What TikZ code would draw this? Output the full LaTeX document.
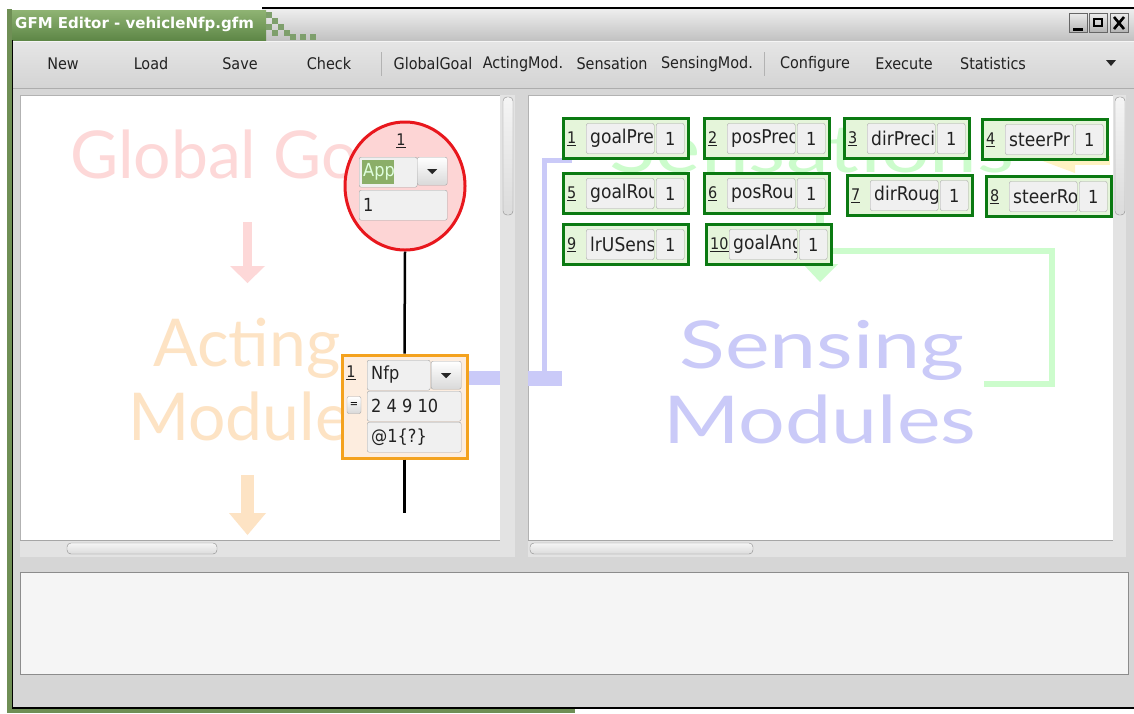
\documentclass[tikz,border=0pt]{standalone}
\usepackage{fontspec}
\usepackage{graphicx}
\setmainfont{DejaVu Sans}
\newfontfamily\gui{DejaVu Sans Condensed}
\newfontfamily\guiw{DejaVu Sans}
\newfontfamily\wm{Lato}
\usetikzlibrary{shapes.geometric}
\definecolor{winbg}{HTML}{D6D6D6}
\definecolor{titleA}{HTML}{EEEEEE}
\definecolor{titleB}{HTML}{C2C2C2}
\definecolor{greenA}{HTML}{8FB373}
\definecolor{greenB}{HTML}{5E8747}
\definecolor{frameGreen}{HTML}{6F8F55}
\definecolor{wmPink}{HTML}{FDD8D8}
\definecolor{wmPeach}{HTML}{FDE3C4}
\definecolor{wmBlue}{HTML}{CACAF8}
\definecolor{wmGreen}{HTML}{CCFCCC}
\definecolor{wmYellow}{HTML}{FFF2C2}
\definecolor{ggFill}{HTML}{FDD5D5}
\definecolor{ggRed}{HTML}{E8171D}
\definecolor{amFill}{HTML}{FDEDDF}
\definecolor{amOrange}{HTML}{F4A21E}
\definecolor{snFill}{HTML}{E5F5DA}
\definecolor{snGreen}{HTML}{0B7A12}
\definecolor{fieldFill}{HTML}{F0F0F0}
\definecolor{fieldLine}{HTML}{A6A6A6}
\definecolor{appGreen}{HTML}{8BAE68}
\definecolor{txt}{HTML}{222222}
\begin{document}
\begin{tikzpicture}[x=1pt,y=-1pt,
  tbtext/.style={font=\gui\fontsize{16}{16}\selectfont, text=txt, inner sep=0pt},
  titletext/.style={font=\guiw\bfseries\fontsize{15}{15}\selectfont, text=white, inner sep=0pt},
  field/.style={draw=fieldLine, fill=fieldFill, rounded corners=2pt, minimum height=30pt, inner sep=0pt, font=\gui\fontsize{18}{18}\selectfont, text=txt},
  fieldtext/.style={font=\gui\fontsize{18}{18}\selectfont, text=txt, inner sep=0pt},
  sentext/.style={font=\gui\fontsize{19}{19}\selectfont, text=txt, inner sep=0pt},
  numlbl/.style={font=\gui\fontsize{16}{16}\selectfont, text=txt, inner sep=0pt},
  dropbtn/.style={draw=fieldLine, top color=white, bottom color=black!15, rounded corners=2pt, minimum height=28pt, minimum width=30pt, inner sep=0pt},
  sensbox/.style={draw=snGreen, line width=3pt, fill=snFill, minimum width=125pt, minimum height=40pt, inner sep=0pt},
  wmtext/.style={font=\wm\fontsize{66}{66}\selectfont, inner sep=0pt},
  pane/.style={fill=white, draw=black!30},
  trough/.style={fill=black!11, draw=none},
  thumb/.style={draw=black!45, top color=black!4, bottom color=black!14, rounded corners=4pt},
  winbtn/.style={draw=black!60, top color=black!8, bottom color=black!30, minimum width=18pt, minimum height=19pt, inner sep=0pt},
  sep/.style={draw=black!30, line width=1pt}
]
\useasboundingbox (0,0) rectangle (1134,713);
\fill[white] (0,0) rectangle (1134,713);
% ---------- window frame ----------
\fill[winbg] (10,40) rectangle (1134,708);
\shade[top color=titleA, bottom color=titleB] (262,9) rectangle (1134,40);
\draw[black, line width=1.5pt] (262,8) -- (1134,8);
\shade[top color=greenA, bottom color=greenB] (10,10) rectangle (266,40);
\foreach \px/\py in {266/12, 272/18, 278/24, 266/24, 284/30, 290/34, 300/34, 272/30, 310/34}
  \fill[greenB!80] (\px,\py) rectangle ++(6,6);
\node[titletext, anchor=west] (title) at (15,24) {GFM Editor - vehicleNfp.gfm};
% window buttons
\node[winbtn] (bmin) at (1078,23) {};
\node[winbtn] (bmax) at (1098,23) {};
\node[winbtn] (bcls) at (1119,23) {};
\fill[black] ([xshift=-5pt,yshift=-5pt]bmin.center) rectangle ([xshift=5pt,yshift=-8pt]bmin.center);
\draw[black, line width=2pt] ([xshift=-4pt,yshift=-3pt]bmax.center) rectangle ([xshift=4pt,yshift=4pt]bmax.center);
\draw[black, line width=2.6pt] ([xshift=-5pt,yshift=-6pt]bcls.center) -- ([xshift=5pt,yshift=6pt]bcls.center);
\draw[black, line width=2.6pt] ([xshift=-5pt,yshift=6pt]bcls.center) -- ([xshift=5pt,yshift=-6pt]bcls.center);
% toolbar
\shade[top color=black!10, bottom color=black!17] (12,41) rectangle (1134,88);
\draw[black!4] (12,41.5) -- (1134,41.5);
\draw[black!32] (12,88) -- (1134,88);
\node[tbtext] (tNew) at (63,64) {New};
\node[tbtext] (tLoad) at (151,64) {Load};
\node[tbtext] (tSave) at (240,64) {Save};
\node[tbtext] (tCheck) at (329,64) {Check};
\draw[sep] (381,52) -- (381,76);
\node[tbtext] (tGG) at (433,64) {GlobalGoal};
\node[tbtext] (tAM) at (523,64) {ActingMod.};
\node[tbtext] (tSe) at (612,64) {Sensation};
\node[tbtext] (tSM) at (707,64) {SensingMod.};
\draw[sep] (764,52) -- (764,76);
\node[tbtext] (tCo) at (815,64) {Configure};
\node[tbtext] (tEx) at (904,64) {Execute};
\node[tbtext] (tSt) at (993,64) {Statistics};
\fill[black!85] (1106,60) -- (1116,60) -- (1111,66) -- cycle;
% left & bottom frame
\fill[frameGreen] (7,9) rectangle (12,713);
\draw[black, line width=1pt] (12.5,40) -- (12.5,708);
\fill[frameGreen] (12,709) rectangle (575,713);
\draw[black, line width=2pt] (12,708) -- (1134,708);
% ---------- panes ----------
\draw[pane] (20,95) rectangle (500,540);
\fill[trough] (500,95) rectangle (515,540);
\draw[thumb] (503,97) rectangle (513,215);
\fill[trough] (20,540) rectangle (515,557);
\draw[black!35] (20,540) -- (500,540);
\draw[thumb] (67,543) rectangle (217,554);
\draw[pane] (528,95) rectangle (1113,540);
\fill[trough] (1113,95) rectangle (1126,540);
\draw[thumb] (1115,97) rectangle (1125,215);
\fill[trough] (528,540) rectangle (1126,557);
\draw[black!35] (528,540) -- (1113,540);
\draw[thumb] (530,543) rectangle (753,554);
% message area
\draw[fill=black!4, draw=black!45] (20,572) rectangle (1128,674);
% ---------- left pane watermarks ----------
\begin{scope}
\clip (20,95) rectangle (500,540);
\node[wmtext, text=wmPink, anchor=base west] (wGG) at (70,178) {Global Go};
\fill[wmPink] (243,222) rectangle (252,268);
\fill[wmPink] (230,266) -- (265,266) -- (247.5,283) -- cycle;
\node[wmtext, text=wmPeach, anchor=base] (wAc) at (247,366) {Acting};
\node[wmtext, text=wmPeach, anchor=base west] (wMo) at (128,440) {Module};
\fill[wmPeach] (241,475) rectangle (254,515);
\fill[wmPeach] (229,513) -- (266,513) -- (247.5,535) -- cycle;
\fill[wmBlue] (467,371) rectangle (500,385);
\end{scope}
% ---------- right pane watermarks ----------
\begin{scope}
\clip (528,95) rectangle (1113,540);
\node[wmtext, text=wmGreen, anchor=base] (wSn) at (812,172) {\scalebox{1.3}[1]{Sensations}};
\fill[wmYellow] (1040,160) -- (1075,147) -- (1075,173) -- cycle;
\fill[wmYellow] (1075,156) rectangle (1110,165);
\fill[wmBlue] (528,371) rectangle (562,386);
\fill[wmBlue] (542,158) rectangle (547,386);
\fill[wmBlue] (542,158) rectangle (572,163);
\fill[wmGreen] (816,212) rectangle (824,266);
\fill[wmGreen] (803,264) -- (838,264) -- (820,282) -- cycle;
\draw[wmGreen, line width=6pt] (828,251) -- (1052,251) -- (1052,384) -- (984,384);
\node[wmtext, text=wmBlue, anchor=base] (wSe) at (822,368) {\scalebox{1.28}[1]{Sensing}};
\node[wmtext, text=wmBlue, anchor=base] (wMs) at (820,443) {\scalebox{1.25}[1]{Modules}};
\end{scope}
% ---------- global goal node ----------
\node[ellipse, draw=ggRed, line width=3pt, fill=ggFill, minimum width=120pt, minimum height=128pt, inner sep=0pt] (gg) at (405,186) {};
\node[numlbl] (ggn) at (401,141) {\underline{1}};
\node[field, minimum width=58pt, anchor=north west] (ggc) at (359,157) {};
\fill[appGreen] (362,160) rectangle (394,184);
\node[fieldtext, text=white!88!green, anchor=west] (ggct) at (363,172) {App};
\node[dropbtn, anchor=north west] (ggb) at (417,157) {};
\fill[black!85] ([xshift=-5pt,yshift=2pt]ggb.center) -- ([xshift=5pt,yshift=2pt]ggb.center) -- ([yshift=-3pt]ggb.center) -- cycle;
\node[field, minimum width=88pt, anchor=north west] (ggv) at (359,190) {};
\node[fieldtext, anchor=west] (ggvt) at (363,205) {1};
% ---------- acting module node ----------
\node[draw=amOrange, line width=3pt, fill=amFill, minimum width=125pt, minimum height=103pt, inner sep=0pt] (am) at (404.5,406.5) {};
\node[numlbl] (amn) at (351,373) {\underline{1}};
\node[field, minimum width=63pt, anchor=north west] (amc) at (367,360) {};
\node[fieldtext, anchor=west] (amct) at (371,375) {Nfp};
\node[dropbtn, anchor=north west] (amb) at (431,361) {};
\fill[black!85] ([xshift=-5pt,yshift=2pt]amb.center) -- ([xshift=5pt,yshift=2pt]amb.center) -- ([yshift=-3pt]amb.center) -- cycle;
\node[draw=fieldLine, top color=white, bottom color=black!15, rounded corners=2pt, minimum width=14pt, minimum height=17pt, inner sep=0pt, font=\gui\fontsize{11}{11}\selectfont] (ameq) at (354,405) {=};
\node[field, minimum width=94pt, anchor=north west] (amv) at (367,391) {};
\node[fieldtext, anchor=west] (amvt) at (371,406) {2 4 9 10};
\node[field, minimum width=94pt, anchor=north west] (ama) at (367,422) {};
\node[fieldtext, anchor=west] (amat) at (371,437) {@1\{?\}};
% connectors
\coordinate (tail) at (404.5,513);
\draw[black, line width=2.5pt] (gg.south) -- (am.north);
\draw[black, line width=2.5pt] (am.south) -- (tail);
% ---------- sensation nodes ----------
\newcommand\sensnode[5]{%
  \node[sensbox, anchor=north west] (#1) at (#2,#3) {};
  \node[numlbl, anchor=west] (#1n) at ([xshift=5pt]#1.west) {\underline{#4}};
  \node[field, minimum width=68pt, anchor=west] (#1f) at ([xshift=24pt]#1.west) {};
  \begin{scope}
    \clip ([xshift=1pt]#1f.south west) rectangle ([xshift=-1pt]#1f.north east);
    \node[sentext, anchor=west] (#1t) at ([xshift=4pt]#1f.west) {#5};
  \end{scope}
  \node[field, minimum width=28pt, anchor=west] (#1v) at ([xshift=94pt]#1.west) {1};
}
\sensnode{s1}{562}{117}{1}{goalPre}
\sensnode{s2}{703}{117}{2}{posPrec}
\sensnode{s3}{843}{117}{3}{dirPreci}
\sensnode{s4}{981}{118}{4}{steerPr}
\sensnode{s5}{562}{172}{5}{goalRou}
\sensnode{s6}{703}{172}{6}{posRou}
\sensnode{s7}{846}{174}{7}{dirRoug}
\sensnode{s8}{985}{175}{8}{steerRo}
\sensnode{s9}{562}{223}{9}{lrUSens}
\sensnode{s10}{705}{223}{10}{goalAng}
\end{tikzpicture}
\end{document}
